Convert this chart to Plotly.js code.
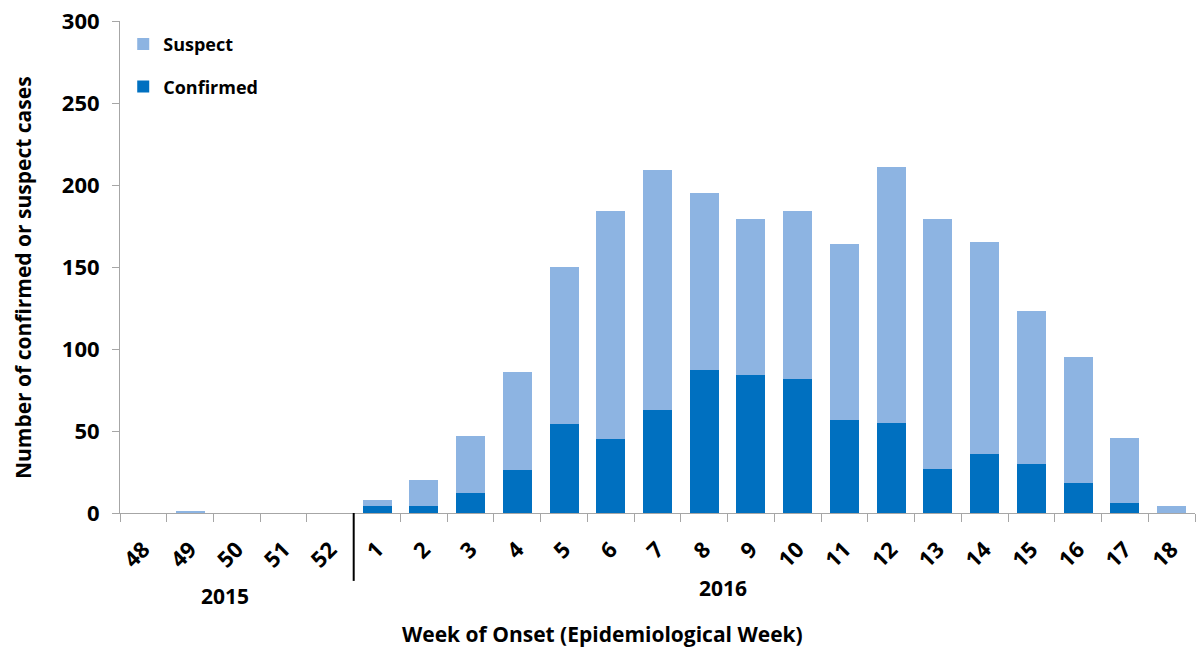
<!DOCTYPE html>
<html>
<head>
<meta charset="utf-8">
<script src="https://cdn.plot.ly/plotly-3.0.1.min.js"></script>
<style>html,body{margin:0;padding:0;background:#fff;}#chart{width:1196px;height:648px;}</style>
</head>
<body>
<div id="chart"></div>
<script>
const weeks = ["48","49","50","51","52","1","2","3","4","5","6","7","8","9","10","11","12","13","14","15","16","17","18"];
const confirmed = [0,0,0,0,0,4,4,12,26,54,45,63,87,84,82,57,55,27,36,30,18,6,0];
const suspect =   [0,1,0,0,0,4,16,35,60,96,139,146,108,95,102,107,156,152,129,93,77,40,4];
const yearLabels = ["2015","2016"];
const xTitle = "Week of Onset (Epidemiological Week)";
const yTitle = "Number of confirmed or suspect cases";

const FONT = '"Open Sans", "DejaVu Sans", sans-serif';

const traces = [
  {type:'bar', name:'Confirmed', x:weeks, y:confirmed, marker:{color:'#0070C0'}, legendgroup:'c', legendrank:2},
  {type:'bar', name:'Suspect', x:weeks, y:suspect, marker:{color:'#8DB4E2'}, legendgroup:'s', legendrank:1}
];

const layout = {
  width:1196, height:648,
  margin:{l:120, r:1, t:21, b:135},
  barmode:'stack', bargap:0.38,
  paper_bgcolor:'#fff', plot_bgcolor:'#fff',
  font:{family:FONT, color:'#000'},
  showlegend:true,
  legend:{x:0.003, y:0.99, xanchor:'left', yanchor:'top', traceorder:'grouped', tracegroupgap:16,
          font:{size:18, family:FONT, weight:'bold'}, bgcolor:'rgba(0,0,0,0)'},
  xaxis:{type:'category', showline:true, linecolor:'#A6A6A6', linewidth:1, ticks:'outside', ticklen:8,
         tickcolor:'#A6A6A6', tickson:'boundaries', tickangle:-45, showgrid:false, zeroline:false,
         ticklabelstandoff:14,
         tickfont:{size:22, family:FONT, weight:'bold'}},
  yaxis:{range:[0,300], dtick:50, showline:true, linecolor:'#A6A6A6', linewidth:1, ticks:'outside', ticklen:7,
         tickcolor:'#A6A6A6', showgrid:false, zeroline:false, ticklabelstandoff:8,
         tickfont:{size:22, family:FONT, weight:'bold'}},
  shapes:[{type:'line', xref:'x', yref:'paper', x0:4.5, x1:4.5, y0:0, y1:-0.138, line:{color:'#000', width:2}}],
  annotations:[
    {xref:'x', yref:'paper', x:1.75, y:-0.169, text:yearLabels[0], showarrow:false, yanchor:'middle', font:{size:21, family:FONT, weight:'bold'}},
    {xref:'x', yref:'paper', x:12.4, y:-0.153, text:yearLabels[1], showarrow:false, yanchor:'middle', font:{size:21, family:FONT, weight:'bold'}},
    {xref:'paper', yref:'paper', x:0.449, y:-0.246, text:xTitle, showarrow:false, yanchor:'middle', xanchor:'center', font:{size:21, family:FONT, weight:'bold'}},
    {xref:'paper', yref:'paper', x:-0.0895, y:0.479, text:yTitle, textangle:-90, showarrow:false, yanchor:'middle', xanchor:'center', font:{size:21, family:FONT, weight:'bold'}}
  ]
};

Plotly.newPlot('chart', traces, layout, {displayModeBar:false, responsive:false});
</script>
</body>
</html>
